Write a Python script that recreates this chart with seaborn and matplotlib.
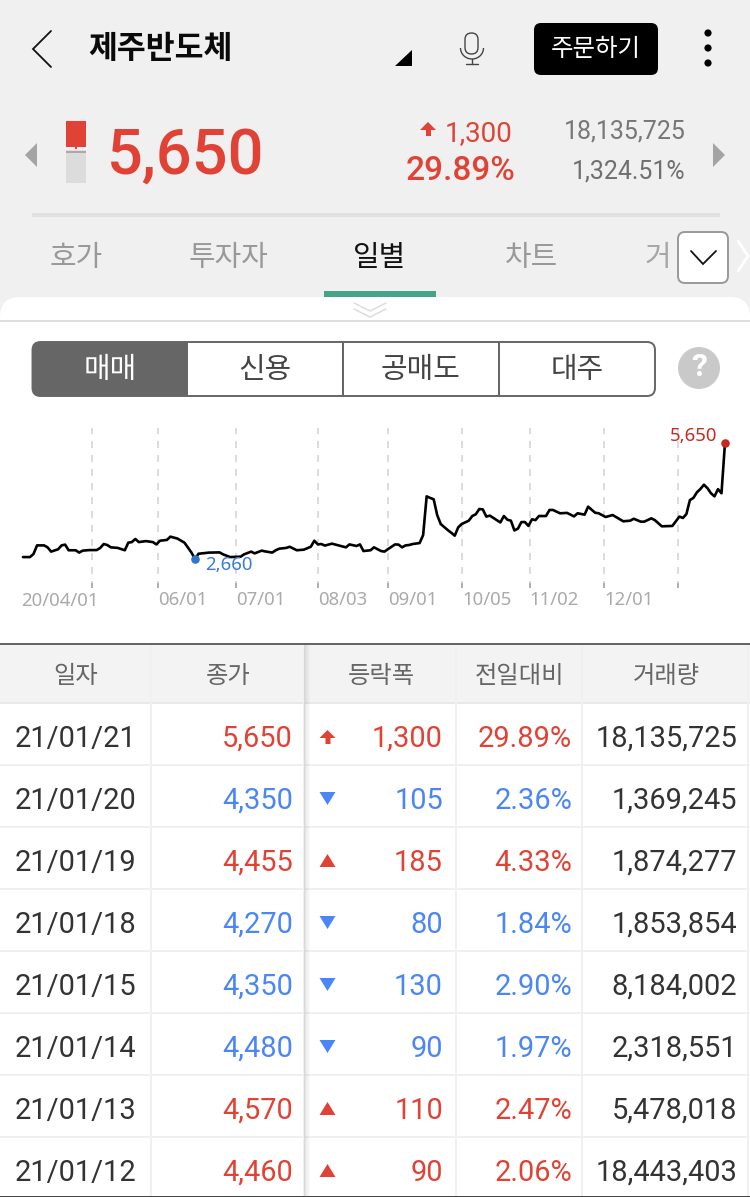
import matplotlib
matplotlib.use("Agg")
import matplotlib.pyplot as plt
from matplotlib.patches import Rectangle, FancyBboxPatch, Polygon, Circle, Arc
import numpy as np
import pandas as pd
import seaborn as sns

# ---------- data ----------
price_days = [0,2,3,4,6,7,8,10,11,12,13,15,16,17,19,21,22,23,24,25,27,29,30,31,32,33,35,37,38,39,41,42,44,46,47,48,49,
              50,53,56,57,59,62,63,65,66,68,69,71,72,73,75,76,78,80,82,83,84,85,86,88,92,93,95,96,97,99,100,
              102,103,104,106,107,108,109,110,111,113,114,115,116,117,118,119,121,122,123,124,125,127,128,129,130,131,132,133,
              136,137,138,139,140,141,142,143,144,145,146,147,149,150,151,153,155,157,158,160,161,163,164,166,168,171,173,174,
              176,177,179,180,182,185,187,188,189,190,191,192,193,194,195,196,197,198,199,200]
price_vals = [2710,2710,2790,3010,3010,2960,2850,2910,3010,3030,2885,2885,2825,2875,2890,2890,2945,3045,3020,2960,2945,2885,3080,3095,3175,3095,3120,3095,3035,3130,3150,3235,3185,3080,2950,2825,2660,
              2795,2825,2830,2780,2710,2720,2780,2850,2805,2875,2855,2825,2885,2925,2945,2975,2885,2900,2975,3130,3035,3045,3005,3055,2960,3035,2995,3035,2865,2885,2960,
              2865,2850,2915,3035,3030,2960,3010,3020,3045,3070,3275,4270,4230,4195,3790,3560,3405,3335,3260,3475,3560,3645,3765,3810,3945,3935,3750,3775,
              3600,3765,3670,3645,3395,3440,3610,3610,3510,3680,3660,3765,3765,3920,3920,3835,3845,3755,3835,3800,4005,3850,3835,3740,3790,3630,3645,3695,
              3620,3620,3705,3660,3500,3510,3750,3715,3815,4175,4230,4375,4460,4570,4480,4350,4270,4455,4350,5650]
grid_days = [19.6,38.4,60.6,84,103.9,125.1,144.4,165.5,186.6]
grid_labels = ['','06/01','07/01','08/03','09/01','10/05','11/02','12/01','']
first_label = '20/04/01'
low_day, low_val, low_text = 49, 2660, '2,660'
high_day, high_val, high_text = 200, 5650, '5,650'

name = '제주반도체'
current_price = '5,650'
change_text = '1,300'
change_pct = '29.89%'
volume_text = '18,135,725'
turnover_text = '1,324.51%'
tabs = ['호가','투자자','일별','차트']
segments = ['매매','신용','공매도','대주']
columns = ['일자','종가','등락폭','전일대비','거래량']
dates = ['21/01/21','21/01/20','21/01/19','21/01/18','21/01/15','21/01/14','21/01/13','21/01/12']
closes = ['5,650','4,350','4,455','4,270','4,350','4,480','4,570','4,460']
moves = ['limit','down','up','down','down','down','up','up']
changes = ['1,300','105','185','80','130','90','110','90']
pcts = ['29.89%','2.36%','4.33%','1.84%','2.90%','1.97%','2.47%','2.06%']
volumes = ['18,135,725','1,369,245','1,874,277','1,853,854','8,184,002','2,318,551','5,478,018','18,443,403']

# ---------- style ----------
sns.set_theme(style='white')
KR = ['Noto Sans CJK KR','DejaVu Sans']
RB = ['Roboto','DejaVu Sans']
NS = ['Noto Sans','DejaVu Sans']
plt.rcParams['font.family'] = KR
RED, BLUE = '#e04335', '#4a86f5'
W, H = 750, 1197

fig = plt.figure(figsize=(W/100, H/100), dpi=100, facecolor='white')
ui = fig.add_axes([0,0,1,1])
ui.set_xlim(0,W); ui.set_ylim(H,0); ui.axis('off')

def rect(x0,y0,x1,y1,c,z=1):
    ui.add_patch(Rectangle((x0,y0),x1-x0,y1-y0,fc=c,ec='none',zorder=z))
def rrect(x0,y0,x1,y1,r,fc,ec='none',lw=0,z=2):
    ui.add_patch(FancyBboxPatch((x0+r,y0+r),x1-x0-2*r,y1-y0-2*r,boxstyle=f'round,pad={r},rounding_size={r}',fc=fc,ec=ec,lw=lw,zorder=z))
def poly(pts,c,z=3):
    ui.add_patch(Polygon(pts,closed=True,fc=c,ec='none',zorder=z))
def pline(xs,ys,c,lw=1.0,z=3):
    ui.plot(xs,ys,color=c,lw=lw,zorder=z,solid_capstyle='round',solid_joinstyle='miter')
def txt(x,y,s,size,c,ha='center',va='center',fam=KR,w='normal',z=5):
    ui.text(x,y,s,fontsize=size,color=c,ha=ha,va=va,family=fam,fontweight=w,zorder=z)

# ---------- top chrome ----------
rect(0,0,W,320,'#f0f0f0',0)
rrect(0,297,W,345,20,'white',z=1)
rect(0,320,W,H,'white',1)
rect(0,319.5,W,321.5,'#dedede',2)

pline([51,33,51],[31,49,67],'#111',1.3)
txt(88,49,name,22.6,'#0a0a0a',ha='left',w='bold')
poly([(395,66),(412,66),(412,50)],'#000')
# microphone
rrect(465,33,478,54,6.5,'none',ec='#444',lw=1.0,z=3)
ui.add_patch(Arc((472,48),23,22,theta1=0,theta2=180,ec='#444',lw=1.0,zorder=3))
ui.add_patch(Arc((472,48),23,22,theta1=180,theta2=180,ec='#444',lw=1.0,zorder=3))
pline([472,472],[59,64],'#444',1.0)
pline([466,478],[64,64],'#444',1.0)
rrect(534,23,658,75,7,'black')
txt(596,49,'주문하기',17.6,'white')
for yy in (33,48,63):
    ui.add_patch(Circle((708,yy),3.6,fc='black',ec='none',zorder=3))

poly([(37,143),(37,167),(25,155)],'#a4a4a4')
poly([(713,143),(713,167),(725,155)],'#a4a4a4')
rect(66,121,86,147,RED,3)
rect(75,147,77,149,RED,3)
rect(66,150,86,183,'#dcdcdc',3)
rect(66,151,86,153,'#aaaaaa',4)
ui.text(107,174,current_price,fontsize=45.5,color=RED,ha='left',va='baseline',family=RB,fontweight='medium',zorder=5)
poly([(428,122),(436,130),(431,130),(431,136),(426,136),(426,130),(420,130)],RED)
ui.text(513,141,change_text,fontsize=20,color=RED,ha='right',va='baseline',family=RB,zorder=5)
ui.text(515,180,change_pct,fontsize=24,color=RED,ha='right',va='baseline',family=RB,fontweight='medium',zorder=5)
ui.text(685.5,139,volume_text,fontsize=18,color='#777777',ha='right',va='baseline',family=RB,zorder=5)
ui.text(685.5,179,turnover_text,fontsize=17.9,color='#6f6f6f',ha='right',va='baseline',family=RB,zorder=5)
rect(32,213,720,217,'#e0e0e0',2)

for x,s,c in zip((76,228,380,531),tabs,('#999999','#999999','#111111','#999999')):
    txt(x,258,s,20.8,c)
txt(658,258,'거',20.8,'#a6a6a6')
rect(668,232,678,283,'#f0f0f0',6)
rect(324,291,436,297,'#43a488',3)
rrect(678,232,728,283,7,'white',ec='#999999',lw=1.4,z=7)
pline([691,703,716],[251,264,251],'#111',1.3,z=8)
pline([738,748,738],[241,256,271],'white',2.0,z=3)
pline([354,370,386],[303,311,303],'#dddddd',1.1)
pline([354,370,386],[309,317,309],'#dddddd',1.1)

# ---------- segmented control ----------
rrect(32.5,342,655,396,8,'white',ec='#666666',lw=1.4,z=2)
rrect(32.5,342,188,396,8,'#666666',z=3)
rect(170,342,188,396,'#666666',3)
for x in (343,499):
    rect(x-0.7,342,x+0.7,396,'#666666',3)
for x,s,c in zip((110,265,420,577),segments,('white','#444444','#444444','#444444')):
    txt(x,370,s,20.8,c,w='medium' if c=='white' else 'normal')
ui.add_patch(Circle((699,368),21,fc='#c9c9c9',ec='none',zorder=3))
txt(699,367,'?',23,'white',w='bold',fam=RB)

# ---------- line chart ----------
top_px, bot_px, left_px, right_px = 428, 588, 23, 725
chart = fig.add_axes([left_px/W, 1-bot_px/H, (right_px-left_px)/W, (bot_px-top_px)/H], facecolor='none')
df = pd.DataFrame({'day':price_days,'price':price_vals})
sns.lineplot(data=df,x='day',y='price',color='black',linewidth=1.9,ax=chart,zorder=4,clip_on=False)
chart.set_xlim(0,200); chart.set_ylim(1915,6027)
chart.set_xlabel(''); chart.set_ylabel(''); chart.set_yticks([])
for sp in chart.spines.values(): sp.set_visible(False)
chart.set_xticks(grid_days); chart.set_xticklabels(grid_labels)
chart.tick_params(axis='x',direction='in',length=3.6,width=1.2,color='#a8a8a8',bottom=True,pad=2,labelsize=13.4,labelcolor='#aaaaaa')
for lab in chart.get_xticklabels():
    lab.set_ha('left'); lab.set_family(NS)
chart.grid(axis='x',color='#dcdcdc',linewidth=1.4,linestyle=(0,(3.6,3.6)))
chart.set_axisbelow(True)
chart.annotate(first_label,(0,0),xycoords=('data','axes fraction'),xytext=(-1,-3.2),textcoords='offset points',
               ha='left',va='top',fontsize=13.4,color='#aaaaaa',family=NS)
sns.scatterplot(x=[low_day],y=[low_val],color='#2f74cf',s=38,linewidth=0,ax=chart,zorder=5,clip_on=False)
sns.scatterplot(x=[high_day],y=[high_val],color='#c4281f',s=38,linewidth=0,ax=chart,zorder=5,clip_on=False)
chart.set_xlabel(''); chart.set_ylabel('')
chart.annotate(low_text,(low_day,low_val),xytext=(7.5,-4),textcoords='offset points',ha='left',va='center',
               fontsize=13.4,color='#3a7bd5',family=NS,zorder=6)
chart.annotate(high_text,(high_day,high_val),xytext=(-5.5,5),textcoords='offset points',ha='right',va='center',
               fontsize=13.4,color='#c62a22',family=NS,zorder=6)

# ---------- table ----------
col_edges = [151,304,456,582,748]
rect(0,644,W,703,'#f3f3f3',1)
rect(0,643,W,645,'#666666',3)
row_tops = [703+62*i for i in range(len(dates))]
for y in row_tops:
    rect(0,y-1,W,y+1,'#f0f0f0',2)
rect(0,702,W,704,'#e8e8e8',2)
for x in col_edges:
    rect(x-1,645,x+1,H,'#f0f0f0',2)
rect(0,1195.5,W,H,'#444444',3)
for i,a in enumerate(np.linspace(0.22,0.0,7)):
    rect(304+i,645,305+i,H,(0.5,0.5,0.5,a),3)
for x,s in zip((76,228,381,520,666),columns):
    txt(x,676,s,17.5,'#666666')

for i,(d,c,m,ch,p,v) in enumerate(zip(dates,closes,moves,changes,pcts,volumes)):
    yc = row_tops[i]+34
    base = yc+10
    col = BLUE if m=='down' else RED
    ui.text(15,base,d,fontsize=20.9,color='#333333',ha='left',va='baseline',family=RB,zorder=5)
    ui.text(293,base,c,fontsize=20.9,color=col,ha='right',va='baseline',family=RB,zorder=5)
    ui.text(443,base,ch,fontsize=20.9,color=col,ha='right',va='baseline',family=RB,zorder=5)
    ui.text(572,base,p,fontsize=20.9,color=col,ha='right',va='baseline',family=RB,zorder=5)
    ui.text(737,base,v,fontsize=20.9,color='#333333',ha='right',va='baseline',family=RB,zorder=5)
    x0 = 327.5
    if m=='limit':
        poly([(x0,yc-7),(x0+8,yc+1),(x0+3,yc+1),(x0+3,yc+7),(x0-2,yc+7),(x0-2,yc+1),(x0-8,yc+1)],col)
    elif m=='up':
        poly([(x0,yc-7),(x0+8,yc+6),(x0-8,yc+6)],col)
    else:
        poly([(x0,yc+6),(x0+8,yc-7),(x0-8,yc-7)],col)

fig.savefig('out.png',dpi=100)
